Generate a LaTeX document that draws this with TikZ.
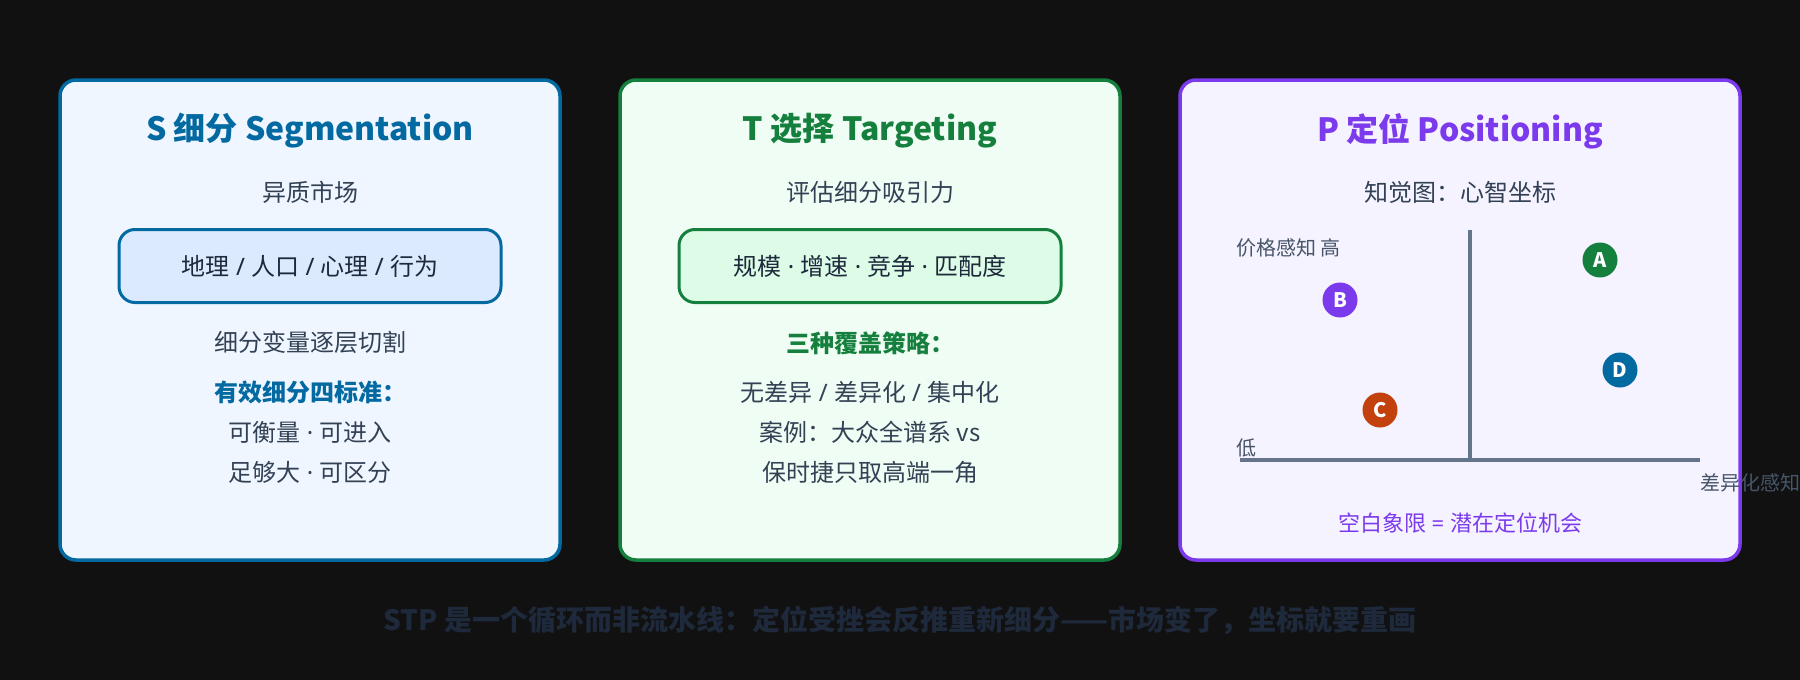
\documentclass[tikz,border=0pt]{standalone}
\usepackage{fontspec}
\setmainfont{Noto Sans CJK SC}
\newfontfamily\latinf{Noto Sans}
\newcommand{\mdt}{{\latinf\ ·\ }}
\newcommand{\sls}{{\latinf\ /\ }}
\definecolor{bgc}{HTML}{111111}
\definecolor{blueS}{HTML}{0369A1}
\definecolor{blueF}{HTML}{EFF6FF}
\definecolor{blueI}{HTML}{DBEAFE}
\definecolor{greenT}{HTML}{15803D}
\definecolor{greenF}{HTML}{F0FDF4}
\definecolor{greenI}{HTML}{DCFCE7}
\definecolor{purpleP}{HTML}{7C3AED}
\definecolor{purpleF}{HTML}{F5F3FF}
\definecolor{orangeC}{HTML}{C2410C}
\definecolor{slateT}{HTML}{334155}
\definecolor{axisC}{HTML}{64748B}
\definecolor{axisL}{HTML}{475569}
\definecolor{navyN}{HTML}{1E293B}
\begin{document}
\begin{tikzpicture}[x=1pt,y=-1pt,
  card/.style={rounded corners=16pt, line width=3.5pt, minimum height=480pt, inner sep=0pt},
  innerbox/.style={rounded corners=16pt, line width=3pt, minimum width=382pt, minimum height=73pt, inner sep=0pt,
     font=\fontsize{24}{28}\selectfont, text=navyN},
  ttl/.style={font=\fontsize{32}{38}\selectfont\bfseries, inner sep=0pt},
  body/.style={font=\fontsize{24}{28}\selectfont, text=slateT, inner sep=0pt},
  bodyb/.style={font=\fontsize{24}{28}\selectfont\bfseries, inner sep=0pt},
  axl/.style={font=\fontsize{20}{24}\selectfont, text=axisL, inner sep=0pt, anchor=west},
  axisline/.style={draw=axisC, line width=4pt},
  dot/.style={circle, minimum size=35pt, inner sep=0pt, text=white, font=\fontsize{20}{22}\selectfont\bfseries},
]
\fill[bgc] (0,0) rectangle (1800,680);
\useasboundingbox (0,0) rectangle (1800,680);

% cards
\node[card, draw=blueS, fill=blueF, minimum width=500pt] (cardS) at (310,320) {};
\node[card, draw=greenT, fill=greenF, minimum width=500pt] (cardT) at (870,320) {};
\node[card, draw=purpleP, fill=purpleF, minimum width=560pt] (cardP) at (1460,320) {};

% S card
\node[ttl, text=blueS] (tS) at (310,131) {S 细分 Segmentation};
\node[body] (s1) at (310,192) {异质市场};
\node[innerbox, draw=blueS, fill=blueI] (sBox) at (310,266) {地理\sls 人口\sls 心理\sls 行为};
\node[body] (s2) at (310,342) {细分变量逐层切割};
\node[bodyb, text=blueS] (s3) at (310,392) {有效细分四标准：};
\node[body] (s4) at (310,432) {可衡量\mdt 可进入};
\node[body] (s5) at (310,472) {足够大\mdt 可区分};

% T card
\node[ttl, text=greenT] (tT) at (870,131) {T 选择 Targeting};
\node[body] (t1) at (870,192) {评估细分吸引力};
\node[innerbox, draw=greenT, fill=greenI] (tBox) at (870,266) {规模\mdt 增速\mdt 竞争\mdt 匹配度};
\node[bodyb, text=greenT] (t2) at (870,343) {三种覆盖策略：};
\node[body] (t3) at (870,392) {无差异\sls 差异化\sls 集中化};
\node[body] (t4) at (870,432) {案例：大众全谱系 vs};
\node[body] (t5) at (870,472) {保时捷只取高端一角};

% P card
\node[ttl, text=purpleP] (tP) at (1460,131) {P 定位 Positioning};
\node[body] (p1) at (1460,192) {知觉图：心智坐标};
\coordinate (yTop) at (1470,230);
\coordinate (yBot) at (1470,460);
\coordinate (xL) at (1240,460);
\coordinate (xR) at (1700,460);
\draw[axisline] (yTop) -- (yBot);
\draw[axisline] (xL) -- (xR);
\node[axl] (lHigh) at (1236,248) {价格感知 高};
\node[axl] (lLow) at (1236,448) {低};
\node[axl] (lX) at (1700,483) {差异化感知};
\node[dot, fill=greenT] (pA) at (1600,260) {A};
\node[dot, fill=purpleP] (pB) at (1340,300) {B};
\node[dot, fill=orangeC] (pC) at (1380,410) {C};
\node[dot, fill=blueS] (pD) at (1620,370) {D};
\node[font=\fontsize{22}{26}\selectfont, text=purpleP, inner sep=0pt] (p2) at (1460,523) {空白象限{\latinf\ =\ }潜在定位机会};

% bottom note
\node[font=\fontsize{28}{32}\selectfont\bfseries, text=navyN, inner sep=0pt] (note) at (900,620)
  {STP 是一个循环而非流水线：定位受挫会反推重新细分——市场变了，坐标就要重画};
\end{tikzpicture}
\end{document}
